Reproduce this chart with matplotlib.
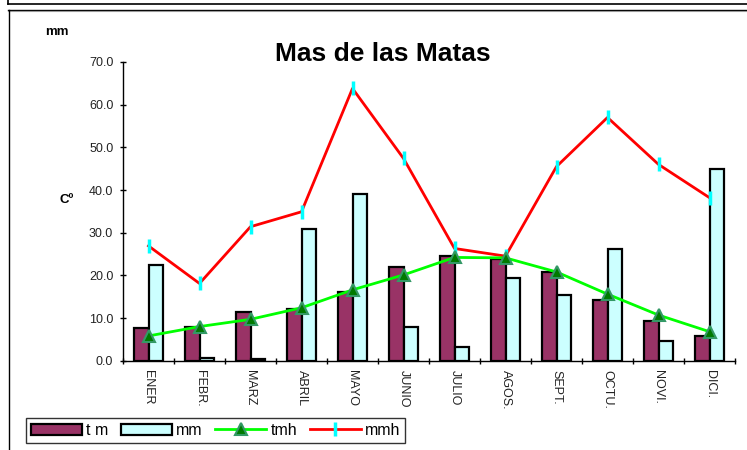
import numpy as np
import matplotlib
matplotlib.use("Agg")
import matplotlib.pyplot as plt
from matplotlib.lines import Line2D

plt.rcParams['font.family'] = ['Liberation Sans', 'DejaVu Sans']

# Monthly climate values
months = ["ENER", "FEBR.", "MARZ", "ABRIL", "MAYO", "JUNIO",
          "JULIO", "AGOS.", "SEPT.", "OCTU.", "NOVI.", "DICI."]
tm = [7.6, 8.0, 11.3, 12.2, 16.2, 21.9, 24.5, 23.8, 20.8, 14.2, 9.2, 5.9]
mm = [22.4, 0.7, 0.5, 30.8, 39.1, 7.8, 3.3, 19.3, 15.4, 26.2, 4.7, 45.0]
tmh = [5.8, 8.0, 9.7, 12.4, 16.6, 20.1, 24.2, 24.1, 20.8, 15.6, 10.7, 6.8]
mmh = [26.9, 18.1, 31.4, 34.9, 63.8, 47.4, 26.3, 24.5, 45.5, 57.0, 46.0, 38.2]

W, H = 747, 450
fig = plt.figure(figsize=(W / 100, H / 100), dpi=100)

# outer frames (pixel coords -> figure fraction)
def fx(px):
    return px / W

def fy(py):
    return 1 - py / H

fig.add_artist(Line2D([fx(8), 1], [fy(4.3), fy(4.3)], color="black", lw=1.2))
fig.add_artist(Line2D([fx(8), fx(8)], [1, fy(4.3)], color="black", lw=1.2))
fig.add_artist(Line2D([fx(8), 1], [fy(9.5), fy(9.5)], color="black", lw=1.0))
fig.add_artist(Line2D([fx(8), 1], [fy(10.5), fy(10.5)], color="#999999", lw=0.8))
fig.add_artist(Line2D([fx(8.5), fx(8.5)], [fy(9.5), 0], color="black", lw=1.0))

ax = fig.add_axes([fx(123), fy(360.7), fx(735) - fx(123), fy(62) - fy(360.7)])

x = np.arange(len(months)) + 0.5
w = 0.294

b1 = ax.bar(x - w / 2, tm, w, color="#993366", edgecolor="black", linewidth=1.6,
            label="t m", zorder=2)
b2 = ax.bar(x + w / 2, mm, w, color="#CCFFFF", edgecolor="black", linewidth=1.6,
            label="mm", zorder=2)
l1, = ax.plot(x, tmh, color="#00FF00", lw=2, marker="^", markersize=9,
              markerfacecolor="#007A00", markeredgecolor="#339966",
              markeredgewidth=1.5, label="tmh", zorder=4)
l2, = ax.plot(x, mmh, color="#FF0000", lw=2, marker="|", markersize=10,
              markeredgecolor="#00FFFF", markeredgewidth=2.5, label="mmh", zorder=3)

ax.set_xlim(0, 12)
ax.set_ylim(0, 70)
ax.set_yticks(np.arange(0, 71, 10))
ax.set_yticklabels(["%.1f" % v for v in np.arange(0, 71, 10)])
ax.set_xticks(np.arange(0, 13))
ax.set_xticklabels([])
ax.set_xticks(x, minor=True)
ax.set_xticklabels(months, minor=True, rotation=-90, fontsize=9)

ax.tick_params(axis="y", direction="inout", length=5, width=1, pad=4.5,
               labelsize=9, labelcolor="#222222")
ax.tick_params(axis="x", which="major", direction="inout", length=5, width=1)
ax.tick_params(axis="x", which="minor", length=0, pad=6.5, labelcolor="#222222")

for s in ["top", "right"]:
    ax.spines[s].set_visible(False)
for s in ["left", "bottom"]:
    ax.spines[s].set_linewidth(1)

fig.text(fx(383), fy(61), "Mas de las Matas", fontsize=19, fontweight="bold",
         ha="center", va="baseline")
fig.text(fx(57), fy(32), "mm", fontsize=9.5, fontweight="bold",
         ha="center", va="center")
fig.text(fx(67), fy(200), "Cº", fontsize=9.5, fontweight="bold",
         ha="center", va="center")

leg = fig.legend([b1, b2, l1, l2], ["t m", "mm", "tmh", "mmh"],
                 loc="lower left", bbox_to_anchor=(fx(26), fy(443)), ncol=4,
                 fontsize=11.5, frameon=True, fancybox=False, borderpad=0.3,
                 handlelength=3.2, handleheight=0.75, handletextpad=0.25,
                 columnspacing=0.8, borderaxespad=0)
leg.get_frame().set_edgecolor("black")
leg.get_frame().set_linewidth(1)

fig.savefig("out.png", dpi=100)
